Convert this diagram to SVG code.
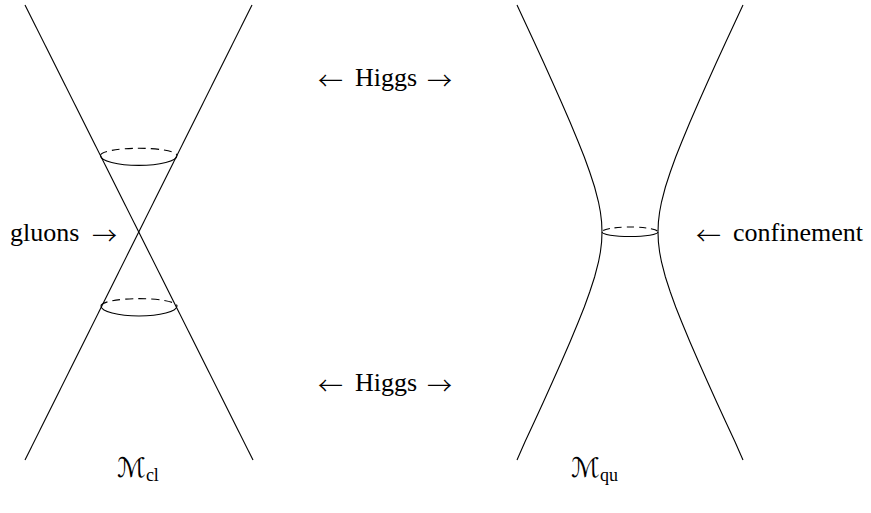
<svg xmlns="http://www.w3.org/2000/svg" width="871" height="513" viewBox="0 0 871 513">
<style>
.ln{fill:none;stroke:#000;stroke-width:1.1}
.dash{fill:none;stroke:#000;stroke-width:1.1;stroke-dasharray:8 5}
.dn{fill:none;stroke:#000;stroke-width:1.1;stroke-dasharray:7 5;stroke-dashoffset:-2}
.t{font-family:"Liberation Serif","DejaVu Serif",serif;font-size:26px;fill:#000}
.a{font-family:"Noto Sans CJK JP","DejaVu Sans",sans-serif;font-size:25px;font-weight:300;fill:#000}
.m{font-family:"DejaVu Serif","DejaVu Sans",serif;font-size:27px;fill:#000}
.s{font-family:"Liberation Serif","DejaVu Serif",serif;font-size:18px;fill:#000}
</style>
<rect width="871" height="513" fill="#fff"/>
<g id="classical">
<line class="ln" x1="25" y1="5" x2="253" y2="460"/>
<line class="ln" x1="252" y1="5" x2="25" y2="460"/>
<path class="dash" d="M100.5,155.5 A38,7.2 0 0 1 177,155.5"/>
<path class="ln" d="M100.5,155.5 A38,9.8 0 0 0 177,155.5"/>
<path class="dash" d="M101,306 A38,7.4 0 0 1 177,306"/>
<path class="ln" d="M101,306 A38,10 0 0 0 177,306"/>
</g>
<g id="quantum">
<path class="ln" d="M517,5 L524.9,22 L534.2,42 L543.4,62 L552.4,82 L561.3,102 L570,122 L578.3,142 L584.3,157 L589.7,172 L594.6,187 L598.5,202 L600.4,212 L601.6,222 L602,232 L601.6,242 L600.4,252 L598.5,262 L594.6,277 L589.7,292 L584.3,307 L578.3,322 L570,342 L561.3,362 L552.4,382 L543.4,402 L534.2,422 L524.9,442 L517,460"/>
<path class="ln" d="M743,5 L735.1,22 L725.8,42 L716.6,62 L707.6,82 L698.7,102 L690,122 L681.7,142 L675.7,157 L670.3,172 L665.4,187 L661.5,202 L659.6,212 L658.4,222 L658,232 L658.4,242 L659.6,252 L661.5,262 L665.4,277 L670.3,292 L675.7,307 L681.7,322 L690,342 L698.7,362 L707.6,382 L716.6,402 L725.8,422 L735.1,442 L743,460"/>
<path class="dn" d="M602,232 A28,5 0 0 1 658,232"/>
<path class="ln" d="M602,232 A28,4.5 0 0 0 658,232"/>
</g>
<g id="labels">
<text class="t" y="86"><tspan class="a" x="318" y="90">←</tspan><tspan x="355" y="86">Higgs</tspan><tspan class="a" x="427" y="90">→</tspan></text>
<text class="t" y="391"><tspan class="a" x="318" y="395">←</tspan><tspan x="355" y="391">Higgs</tspan><tspan class="a" x="427" y="395">→</tspan></text>
<text class="t" y="241"><tspan x="10">gluons</tspan><tspan class="a" x="92" y="245">→</tspan></text>
<text class="t" y="241"><tspan class="a" x="696" y="245">←</tspan><tspan x="733" y="241">confinement</tspan></text>
<text x="117" y="477"><tspan class="m">ℳ</tspan><tspan class="s" dy="4">cl</tspan></text>
<text x="571" y="477"><tspan class="m">ℳ</tspan><tspan class="s" dy="4">qu</tspan></text>
</g>
</svg>
